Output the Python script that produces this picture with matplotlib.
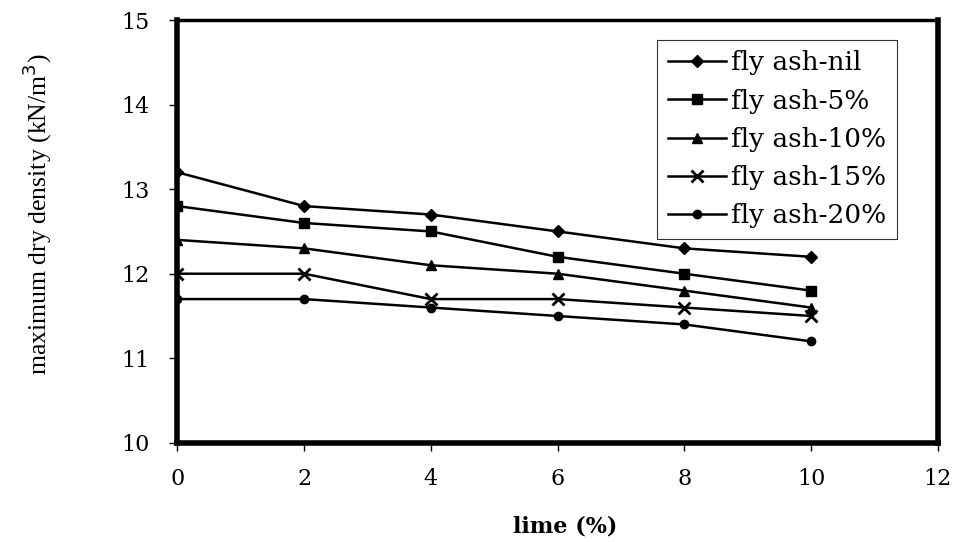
import numpy as np
import matplotlib
matplotlib.use("Agg")
import matplotlib.pyplot as plt

plt.rcParams['font.family'] = ['DejaVu Serif', 'Liberation Serif']

lime = [0, 2, 4, 6, 8, 10]
fa_nil = [13.2, 12.8, 12.7, 12.5, 12.3, 12.2]
fa_5 = [12.8, 12.6, 12.5, 12.2, 12.0, 11.8]
fa_10 = [12.4, 12.3, 12.1, 12.0, 11.8, 11.6]
fa_15 = [12.0, 12.0, 11.7, 11.7, 11.6, 11.5]
fa_20 = [11.7, 11.7, 11.6, 11.5, 11.4, 11.2]
labels = ["fly ash-nil", "fly ash-5%", "fly ash-10%", "fly ash-15%", "fly ash-20%"]

fig = plt.figure(figsize=(9.58, 5.42), dpi=100)
ax = fig.add_axes([0.185, 0.183, 0.794, 0.78])

series = [fa_nil, fa_5, fa_10, fa_15, fa_20]
markers = ['D', 's', '^', 'x', 'o']
msizes = [6, 7, 7, 8, 6]
for vals, m, ms, lab in zip(series, markers, msizes, labels):
    ax.plot(lime, vals, color='black', lw=1.8, marker=m, ms=ms,
            mew=2 if m == 'x' else 1, label=lab)

ax.set_xlim(0, 12)
ax.set_ylim(10, 15)
ax.set_xticks(np.arange(0, 13, 2))
ax.set_yticks(np.arange(10, 16, 1))
for s in ax.spines.values():
    s.set_linewidth(4)
ax.spines['top'].set_linewidth(2.5)
ax.tick_params(direction='out', length=6, width=1, labelsize=16)
ax.tick_params(axis='y', pad=14)
ax.tick_params(axis='x', pad=12)

ax.set_xlabel("lime (%)", fontsize=16, fontweight='bold')
ax.xaxis.set_label_coords(0.51, -0.172)
ax.set_ylabel("maximum dry density (kN/m$^3$)", fontsize=18.5,
              family='Liberation Serif')
ax.yaxis.set_label_coords(-0.162, 0.54)

leg = ax.legend(loc='upper right', bbox_to_anchor=(0.946, 0.953), fontsize=19,
                frameon=True, fancybox=False, handlelength=2.2,
                handletextpad=0.2, labelspacing=0.5, borderpad=0.4,
                borderaxespad=0)
leg.get_frame().set_edgecolor('black')
leg.get_frame().set_linewidth(0.8)

fig.savefig("out.png", dpi=100)
